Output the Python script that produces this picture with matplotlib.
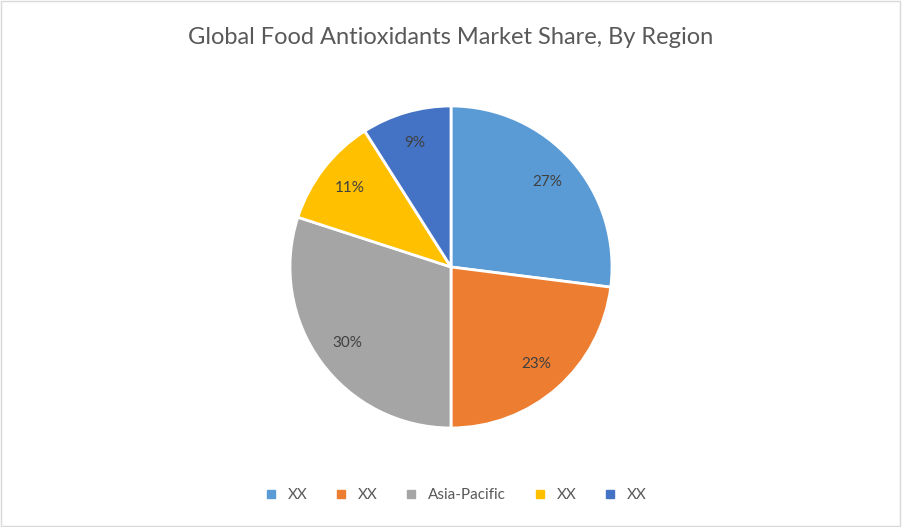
import matplotlib
matplotlib.use("Agg")
import matplotlib.pyplot as plt
from matplotlib.lines import Line2D
from matplotlib.patches import Rectangle

labels = ["XX", "XX", "Asia-Pacific", "XX", "XX"]
values = [27, 23, 30, 11, 9]
colors = ["#5B9BD5", "#ED7D31", "#A5A5A5", "#FFC000", "#4472C4"]

plt.rcParams['font.family'] = ['Lato', 'DejaVu Sans']
fig = plt.figure(figsize=(9.02, 5.27), dpi=100)
fig.patches.append(Rectangle((0.001, 0.001), 0.997, 0.997, transform=fig.transFigure,
                             fill=False, edgecolor="#D9D9D9", linewidth=1))
ax = fig.add_axes([0.3215, 0.1879, 0.357, 0.611])
wedges, texts, autotexts = ax.pie(values, colors=colors, startangle=90, counterclock=False,
       autopct=lambda p: f"{p:.0f}%", pctdistance=0.8,
       wedgeprops=dict(edgecolor="white", linewidth=2),
       textprops=dict(color="#404040", fontsize=11))
ax.set_xlim(-1, 1); ax.set_ylim(-1, 1); ax.set_aspect("equal")
fig.text(0.5, 0.928, "Global Food Antioxidants Market Share, By Region", ha="center", va="center",
         fontsize=17, color="#595959")
handles = [Line2D([], [], marker="s", linestyle="", color=c, markersize=6) for c in colors]
fig.legend(handles, labels, loc="center", bbox_to_anchor=(0.5, 0.061), ncol=5, frameon=False,
           fontsize=11, labelcolor="#595959", handletextpad=0.1, columnspacing=1.2)
fig.savefig("out.png", dpi=100)
